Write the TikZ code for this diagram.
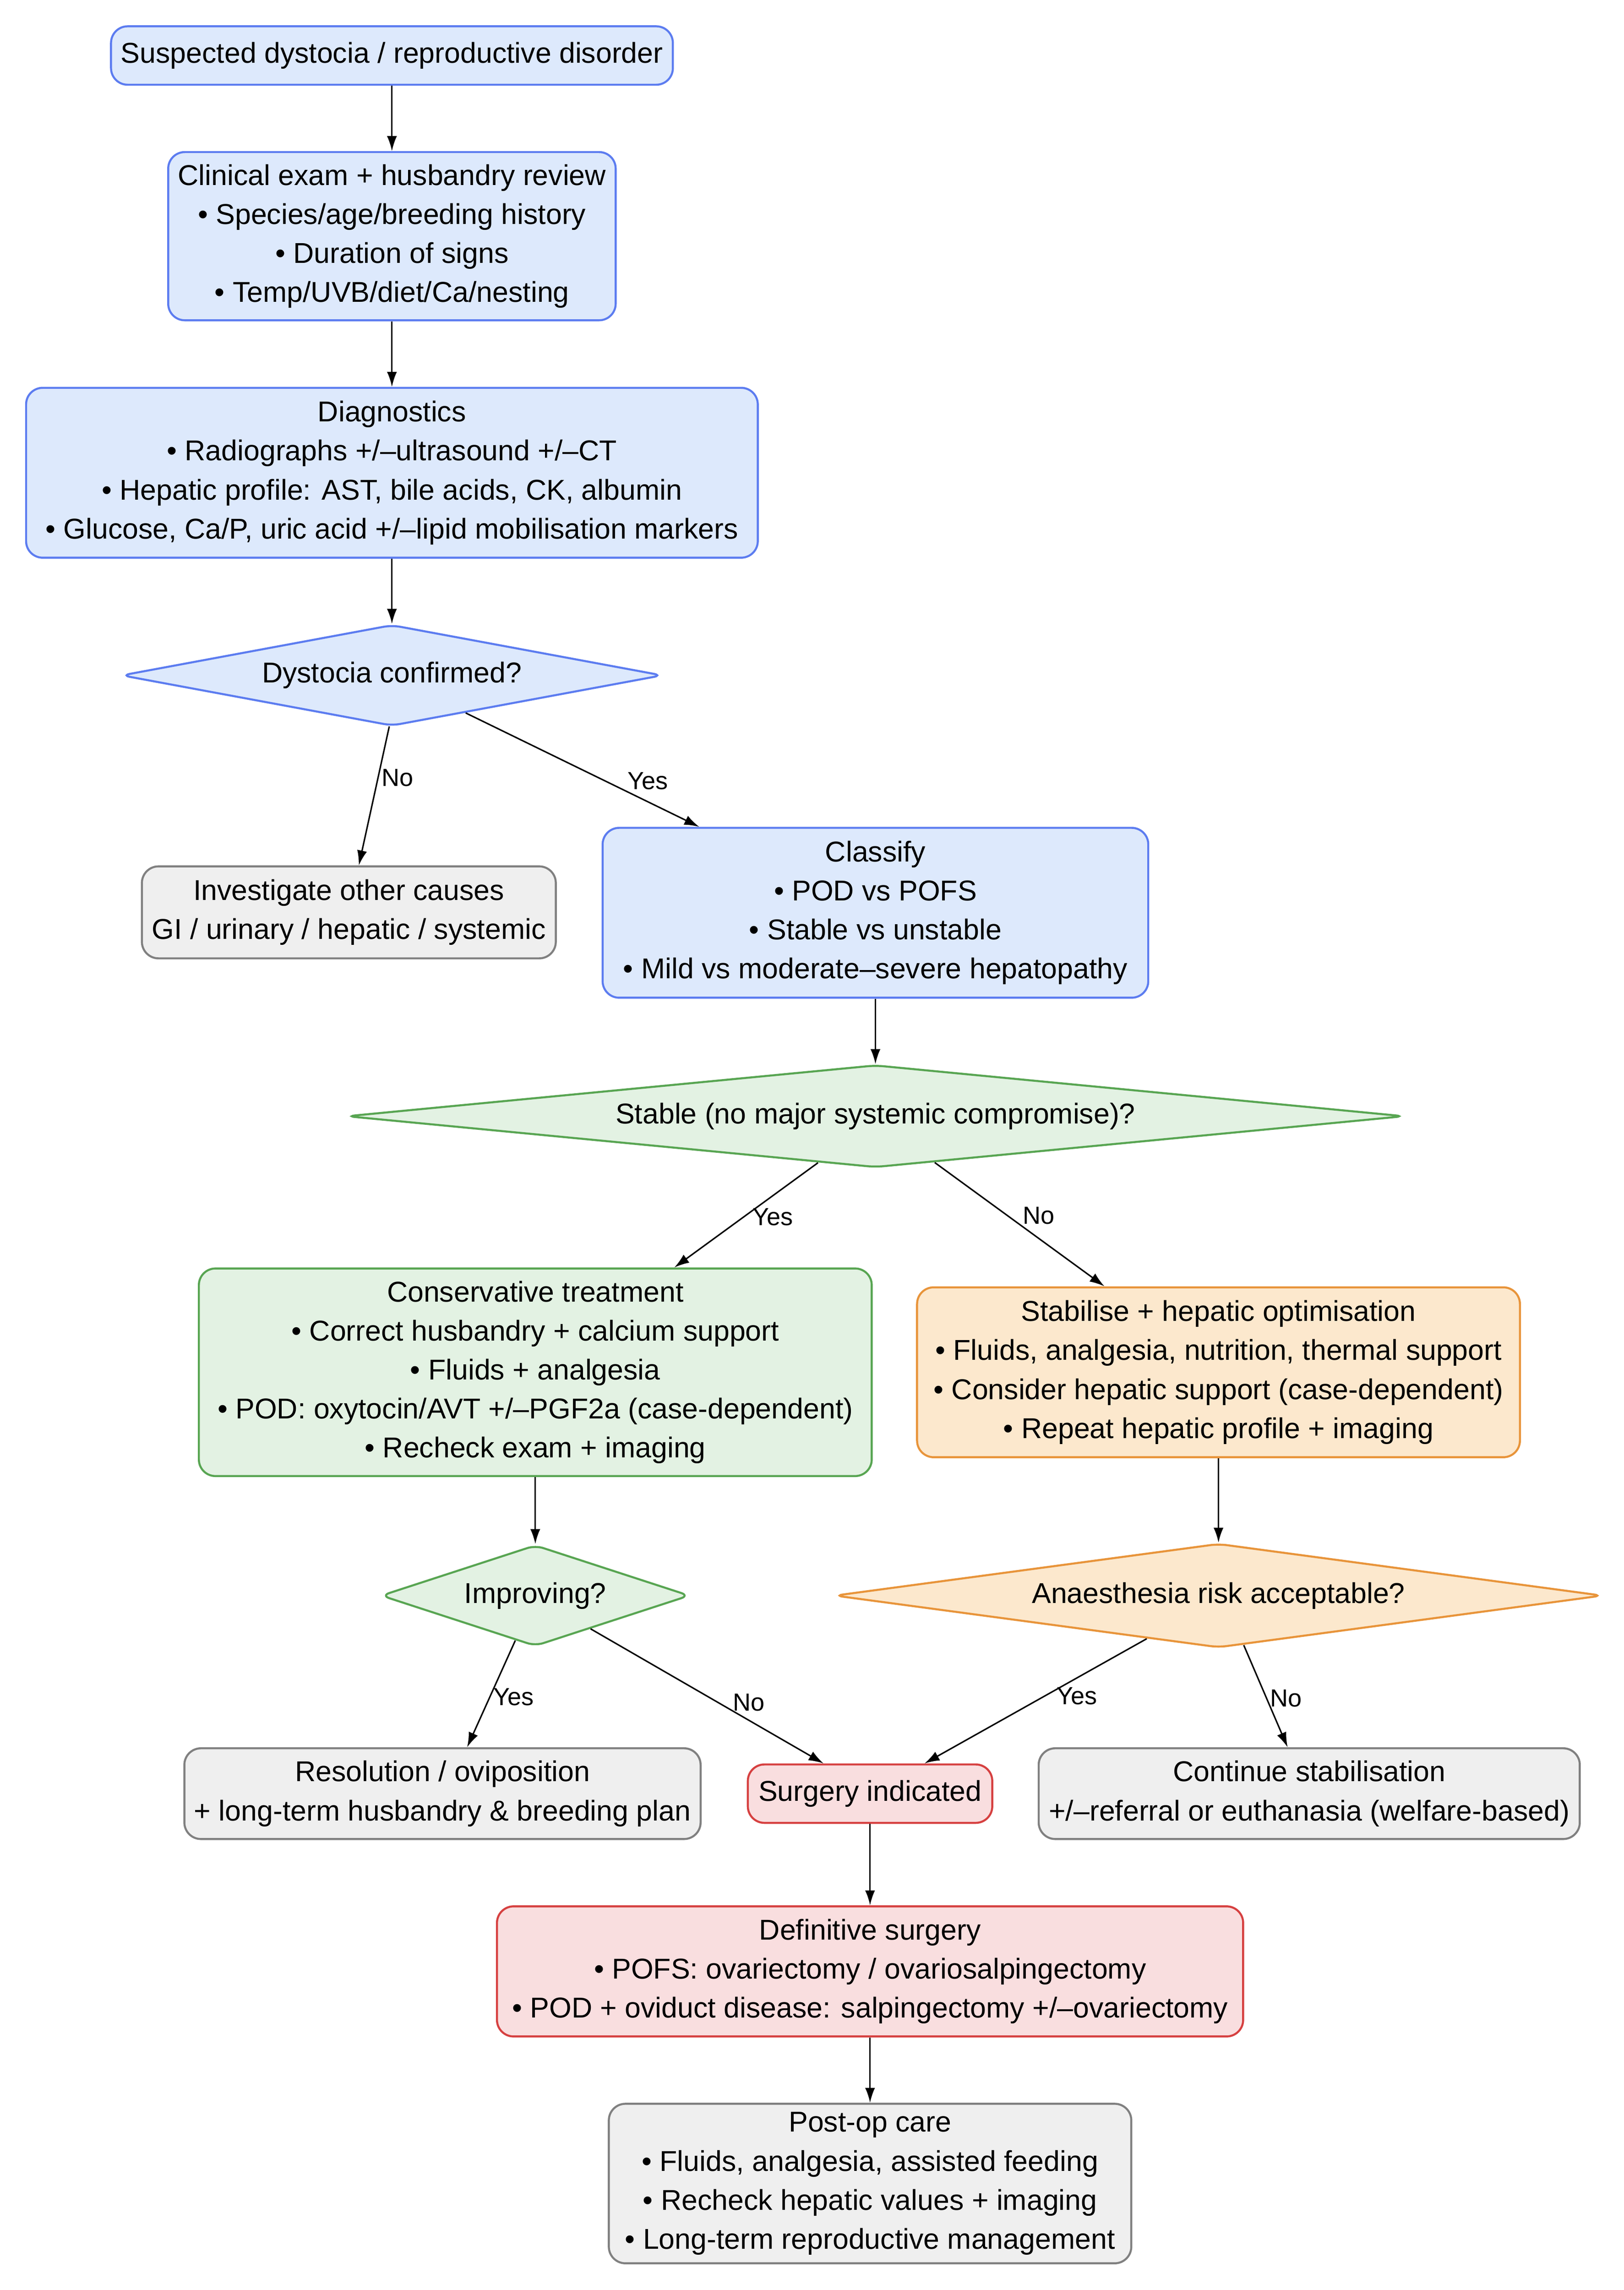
\documentclass[tikz,border=0pt]{standalone}
\usepackage{fontspec}
\setmainfont{Liberation Sans}
\usepackage{tikz}
\usetikzlibrary{shapes.geometric, arrows.meta}

\definecolor{blueline}{RGB}{92,124,240}
\definecolor{bluefill}{RGB}{221,233,252}
\definecolor{greenline}{RGB}{88,165,82}
\definecolor{greenfill}{RGB}{227,242,227}
\definecolor{orangeline}{RGB}{232,148,58}
\definecolor{orangefill}{RGB}{252,232,205}
\definecolor{redline}{RGB}{214,64,64}
\definecolor{redfill}{RGB}{249,222,223}
\definecolor{greyline}{RGB}{128,128,128}
\definecolor{greyfill}{RGB}{239,239,239}

\tikzset{
	box/.style={draw, rounded corners=4mm, line width=1.4pt, align=center, inner sep=2pt, font=\fontsize{19.7}{26.8}\selectfont},
	bluebox/.style={box, draw=blueline, fill=bluefill},
	greenbox/.style={box, draw=greenline, fill=greenfill},
	orangebox/.style={box, draw=orangeline, fill=orangefill},
	redbox/.style={box, draw=redline, fill=redfill},
	greybox/.style={box, draw=greyline, fill=greyfill},
	decision/.style={diamond, draw, rounded corners=2mm, line width=1.4pt, inner sep=0pt, font=\fontsize{19.7}{26.8}\selectfont},
	arrow/.style={-{Latex[length=3.6mm,width=2.4mm]}, line width=1pt},
	lbl/.style={font=\fontsize{17}{19}\selectfont, inner sep=2pt}
}

\begin{document}
\begin{tikzpicture}
			\useasboundingbox (0,0) rectangle (39.19,-55.27);
			% top column
			\node[bluebox, minimum width=13.56cm, minimum height=1.41cm] (suspect) at (9.46,-1.34) {Suspected dystocia / reproductive disorder};
			\node[bluebox, minimum width=10.80cm, minimum height=4.06cm] (exam) at (9.46,-5.70) {Clinical exam + husbandry review\\ • Species/age/breeding history\\ • Duration of signs\\ • Temp/UVB/diet/Ca/nesting};
			\node[bluebox, minimum width=17.66cm, minimum height=4.10cm] (diag) at (9.46,-11.41) {Diagnostics\\ • Radiographs +/–ultrasound +/–CT\\ • Hepatic profile: AST, bile acids, CK, albumin\\ • Glucose, Ca/P, uric acid +/–lipid mobilisation markers};
			\node[decision, draw=blueline, fill=bluefill, aspect=5.36, minimum width=13.06cm, minimum height=2.44cm] (confirmed) at (9.46,-16.30) {Dystocia confirmed?};
			\node[greybox, minimum width=9.99cm, minimum height=2.22cm] (other) at (8.42,-22.02) {Investigate other causes\\ GI / urinary / hepatic / systemic};
			\node[bluebox, minimum width=13.17cm, minimum height=4.10cm] (classify) at (21.13,-22.03) {Classify\\ • POD vs POFS\\ • Stable vs unstable\\ • Mild vs moderate–severe hepatopathy};
			\node[decision, draw=greenline, fill=greenfill, aspect=10.3, minimum width=25.53cm, minimum height=2.47cm] (stable) at (21.13,-26.94) {Stable (no major systemic compromise)?};
			% treatment branches
			\node[greenbox, minimum width=16.24cm, minimum height=5.01cm] (conservative) at (12.92,-33.12) {Conservative treatment\\ • Correct husbandry + calcium support\\ • Fluids + analgesia\\ • POD: oxytocin/AVT +/–PGF2a (case-dependent)\\ • Recheck exam + imaging};
			\node[orangebox, minimum width=14.55cm, minimum height=4.10cm] (stabilise) at (29.41,-33.12) {Stabilise + hepatic optimisation\\ • Fluids, analgesia, nutrition, thermal support\\ • Consider hepatic support (case-dependent)\\ • Repeat hepatic profile + imaging};
			\node[decision, draw=greenline, fill=greenfill, aspect=3.06, minimum width=7.45cm, minimum height=2.44cm] (improving) at (12.92,-38.51) {Improving?};
			\node[decision, draw=orangeline, fill=orangefill, aspect=7.4, minimum width=18.54cm, minimum height=2.51cm] (anaesthesia) at (29.41,-38.51) {Anaesthesia risk acceptable?};
			\node[greybox, minimum width=12.46cm, minimum height=2.19cm] (resolution) at (10.68,-43.29) {Resolution / oviposition\\ + long-term husbandry \& breeding plan};
			\node[redbox, minimum width=5.90cm, minimum height=1.41cm] (indicated) at (21.00,-43.29) {Surgery indicated};
			\node[greybox, minimum width=13.06cm, minimum height=2.19cm] (continue) at (31.60,-43.29) {Continue stabilisation\\ +/–referral or euthanasia (welfare-based)};
			% surgery and aftercare
			\node[redbox, minimum width=18.01cm, minimum height=3.14cm] (surgery) at (21.00,-47.58) {Definitive surgery\\ • POFS: ovariectomy / ovariosalpingectomy\\ • POD + oviduct disease: salpingectomy +/–ovariectomy};
			\node[greybox, minimum width=12.61cm, minimum height=3.85cm] (postop) at (21.00,-52.70) {Post-op care\\ • Fluids, analgesia, assisted feeding\\ • Recheck hepatic values + imaging\\ • Long-term reproductive management};

			\draw[arrow] (suspect.south) -- (exam.north);
			\draw[arrow] (exam.south) -- (diag.north);
			\draw[arrow] (diag.south) -- (confirmed.north);
			\draw[arrow] (confirmed.-93) -- (other.78) node[lbl, pos=0.37, right] {No};
			\draw[arrow] (confirmed.-27) -- (classify.154) node[lbl, pos=0.78, above, yshift=6pt] {Yes};
			\draw[arrow] (classify.south) -- (stable.north);
			\draw[arrow] (stable.-141.5) -- (conservative.37) node[lbl, pos=0.52, right, xshift=4pt] {Yes};
			\draw[arrow] (stable.-38.5) -- (stabilise.143.3) node[lbl, pos=0.43, right, xshift=8pt] {No};
			\draw[arrow] (conservative.south) -- (improving.north);
			\draw[arrow] (stabilise.south) -- (anaesthesia.north);
			\draw[arrow] (improving.-114) -- (resolution.62) node[lbl, pos=0.53, right] {Yes};
			\draw[arrow] (improving.-31.8) -- (indicated.147) node[lbl, pos=0.68, above, yshift=4pt] {No};
			\draw[arrow] (anaesthesia.-149.4) -- (indicated.29) node[lbl, pos=0.46, right, xshift=6pt] {Yes};
			\draw[arrow] (anaesthesia.-63.8) -- (continue.115.8) node[lbl, pos=0.52, right] {No};
			\draw[arrow] (indicated.south) -- (surgery.north);
			\draw[arrow] (surgery.south) -- (postop.north);
		\end{tikzpicture}
\end{document}
